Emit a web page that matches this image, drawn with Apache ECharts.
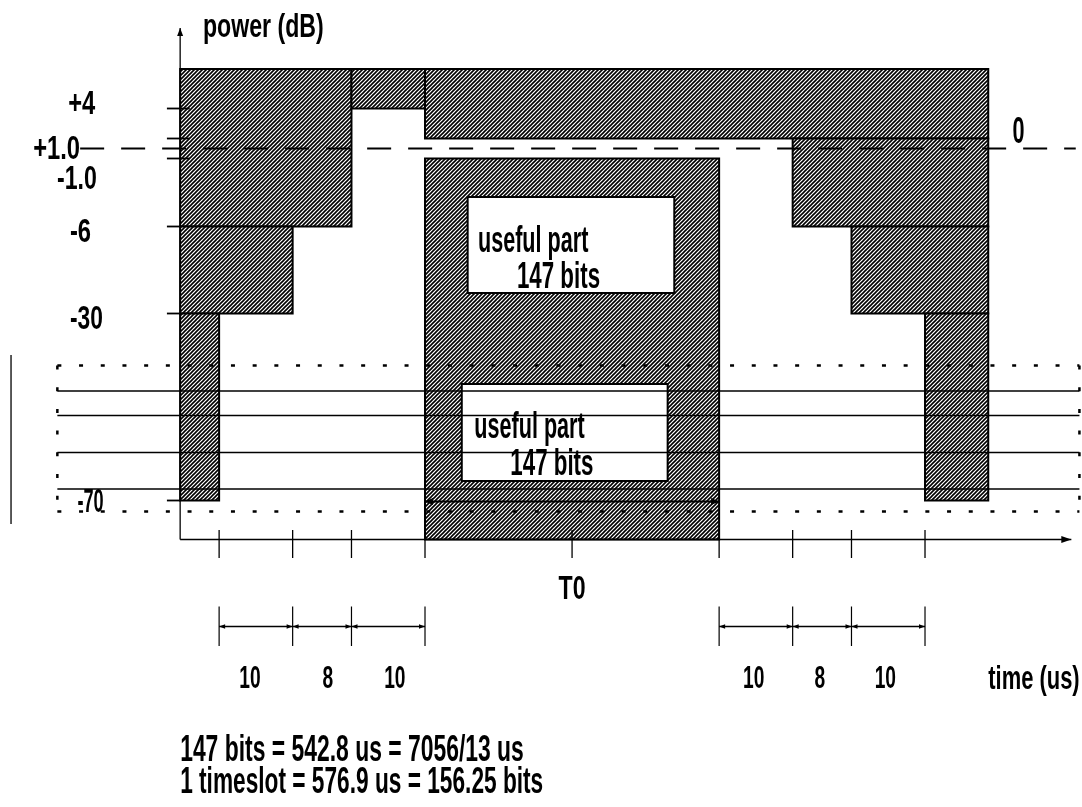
<!DOCTYPE html>
<html><head><meta charset="utf-8">
<script src="https://cdn.jsdelivr.net/npm/echarts@6/dist/echarts.min.js"></script>
<style>html,body{margin:0;padding:0;background:#fff}#c{width:1082px;height:807px}</style>
</head><body><div id="c"></div>
<script>
// ---------------- data ----------------
// vertical power levels (schematic positions on the dB axis)
const levelNames = ['top', '+4', '+1.0', '0', '-1.0', '-6', '-30', '-70', 'floor'];
const levelPos   = [7.95, 4, 1, 0, -1, -7.8, -16.5, -35.2, -39.1];
const longTicks  = ['+4', '+1.0', '-1.0'];
const shortTicks = ['-6', '-30', '-70'];
const tickLabels = ['+4', '+1.0', '-1.0', '-6', '-30', '-70'];
// schematic time axis (µs on the ramps, useful part compressed)
const timeTicks  = [-28, -18, -10, 0, 20, 40, 50, 58, 68];
const rampUp     = [-28, -18, -10, 0];
const rampDown   = [40, 50, 58, 68];
const rampLabels = ['10', '8', '10'];
const tAxis = -33.3, tMaskEnd = 76.6, tArrow = 87.9;
// mask blocks: [t start, t end, upper level, lower level]
const maskBlocks = [
  [tAxis, -10, 'top', '-6'],
  [tAxis, -18, '-6', '-30'],
  [tAxis, -28, '-30', '-70'],
  [-10, 0, 'top', '+4'],
  [0, tMaskEnd, 'top', '+1.0'],
  [0, 40, '-1.0', 'floor'],
  [50, tMaskEnd, '+1.0', '-6'],
  [58, tMaskEnd, '-6', '-30'],
  [68, tMaskEnd, '-30', '-70']
];
const usefulText = ['useful part', '147 bits'];
const usefulBoxes = [[5.8, 33.9, -4.85, -14.45], [5.0, 33.0, -23.55, -33.25]];
const overlayLevels = [-24.25, -26.7, -30.4, -34.05];
const overlayBox = [-50, 89.0, -21.7, -36.3];
const notes = ['147 bits = 542.8 us = 7056/13 us', '1 timeslot = 576.9 us = 156.25 bits'];

// ---------------- helpers ----------------
const FONT = '"Liberation Sans", Arial, sans-serif';
const L = n => levelPos[levelNames.indexOf(n)];
function makeHatch() {
  const c = document.createElement('canvas');
  c.width = 4; c.height = 4;
  const g = c.getContext('2d');
  g.fillStyle = '#fff'; g.fillRect(0, 0, 4, 4);
  g.strokeStyle = '#000'; g.lineWidth = 1.6;
  g.beginPath();
  g.moveTo(-1, 5); g.lineTo(5, -1);
  g.moveTo(-1, 1); g.lineTo(1, -1);
  g.moveTo(3, 5); g.lineTo(5, 3);
  g.stroke();
  return c;
}
const hatchFill = { image: makeHatch(), repeat: 'repeat' };
function seg(api, t1, v1, t2, v2, style) {
  const a = api.coord([t1, v1]), b = api.coord([t2, v2]);
  return { type: 'line', shape: { x1: a[0], y1: a[1], x2: b[0], y2: b[1] },
           style: Object.assign({ stroke: '#000', lineWidth: 1.3 }, style || {}) };
}
function head(api, t, v, dx, dy, len, half) {
  const p = api.coord([t, v]);
  const bx = p[0] - dx * len, by = p[1] - dy * len;
  return { type: 'polygon', shape: { points: [[p[0], p[1]], [bx - dy * half, by + dx * half], [bx + dy * half, by - dx * half]] },
           style: { fill: '#000' } };
}
function txt(api, t, v, s, fs, sx, align) {
  const p = api.coord([t, v]);
  return { type: 'text', x: p[0], y: p[1], scaleX: sx,
           style: { text: s, fontSize: fs, fontFamily: FONT, fontWeight: 'bold', fill: '#000', align: align || 'center', verticalAlign: 'middle' } };
}

const chart = echarts.init(document.getElementById('c'));
chart.setOption({
  animation: false,
  backgroundColor: '#fff',
  grid: { left: 0, right: 0, top: 0, bottom: 0 },
  xAxis: { type: 'value', min: -57.8, max: 89.35, show: false },
  yAxis: { type: 'value', min: -65.85, max: 14.85, show: false },
  series: [
    { // hatched power/time mask
      type: 'custom', silent: true,
      data: maskBlocks.map(b => [b[0], b[1], L(b[2]), L(b[3])]),
      renderItem(params, api) {
        const a = api.coord([api.value(0), api.value(2)]), b = api.coord([api.value(1), api.value(3)]);
        return { type: 'rect', shape: { x: a[0], y: a[1], width: b[0] - a[0], height: b[1] - a[1] },
                 style: { fill: hatchFill, stroke: '#000', lineWidth: 2 } };
      }
    },
    { // useful part boxes
      type: 'custom', silent: true,
      data: usefulBoxes,
      renderItem(params, api) {
        const t1 = api.value(0), t2 = api.value(1), v1 = api.value(2), v2 = api.value(3);
        const a = api.coord([t1, v1]), b = api.coord([t2, v2]);
        const first = params.dataIndex === 0;
        return { type: 'group', children: [
          { type: 'rect', shape: { x: a[0], y: a[1], width: b[0] - a[0], height: b[1] - a[1] },
            style: { fill: '#fff', stroke: '#000', lineWidth: 2 } },
          txt(api, first ? 7.2 : 6.7, first ? -9.35 : -27.95, usefulText[0], 36, 0.60, 'left'),
          txt(api, first ? 12.5 : 11.6, first ? -12.95 : -31.65, usefulText[1], 36, 0.62, 'left')
        ] };
      }
    },
    { // reference lines, overlay, axes
      type: 'custom', silent: true,
      data: [[0, 0]],
      renderItem(params, api) {
        const ch = [];
        // 0 dB dashed reference
        ch.push(seg(api, -46.9, L('0'), 88.5, L('0'), { lineWidth: 2, lineDash: [24, 17] }));
        // overlay dotted box
        const [b1, b2, bt, bb] = overlayBox;
        const dot = { lineWidth: 2.5, lineDash: [4, 17.7] };
        ch.push(seg(api, b1, bt, b2, bt, dot));
        ch.push(seg(api, b1, bb, b2, bb, dot));
        ch.push(seg(api, b1, bt, b1, bb, dot));
        ch.push(seg(api, b2, bt, b2, bb, dot));
        overlayLevels.forEach(v => ch.push(seg(api, b1, v, b2, v, { lineWidth: 1.5 })));
        ch.push(seg(api, -56.3, -20.65, -56.3, -37.55, { lineWidth: 1.3 }));
        // T0 double arrow
        const vT = -35.3;
        ch.push(seg(api, 0, vT, 40, vT, { lineWidth: 2 }));
        ch.push(head(api, 0, vT, -1, 0, 8, 3.5));
        ch.push(head(api, 40, vT, 1, 0, 8, 3.5));
        // axes
        ch.push(seg(api, tAxis, L('floor'), tAxis, 12.05, { lineWidth: 1.3 }));
        ch.push(head(api, tAxis, 12.05, 0, -1, 8, 3));
        ch.push(seg(api, tAxis, L('floor'), tArrow, L('floor'), { lineWidth: 1.6 }));
        ch.push(head(api, tArrow, L('floor'), 1, 0, 10, 3.5));
        longTicks.forEach(n => ch.push(seg(api, -35.1, L(n), -32.0, L(n), { lineWidth: 1.8 })));
        shortTicks.forEach(n => ch.push(seg(api, -35.1, L(n), tAxis, L(n), { lineWidth: 1.8 })));
        timeTicks.forEach(t => ch.push(seg(api, t, -38.15, t, -40.95, { lineWidth: 1.3 })));
        // ramp duration markers
        [rampUp, rampDown].forEach(r => {
          r.forEach(t => ch.push(seg(api, t, -45.8, t, -49.75, { lineWidth: 1.2 })));
          for (let i = 0; i < r.length - 1; i++) {
            ch.push(seg(api, r[i], -47.8, r[i + 1], -47.8, { lineWidth: 1.4 }));
            ch.push(head(api, r[i], -47.8, -1, 0, 6, 2.3));
            ch.push(head(api, r[i + 1], -47.8, 1, 0, 6, 2.3));
          }
        });
        return { type: 'group', children: ch };
      }
    },
    { // texts
      type: 'custom', silent: true,
      data: [[0, 0]],
      renderItem(params, api) {
        const ch = [];
        ch.push(txt(api, -30.2, 12.05, 'power (dB)', 34, 0.68, 'left'));
        const lt = [-46.69, -50.1, -47.33, -46.85, -46.04, -45.49];
        const lv = [4.35, -0.15, -3.15, -8.45, -17.15, -35.45];
        const ls = [0.72, 0.72, 0.70, 0.72, 0.69, 0.55];
        tickLabels.forEach((s, i) => ch.push(txt(api, lt[i], lv[i], s, 33, ls[i])));
        ch.push(txt(api, 80.7, 1.55, '0', 36, 0.6));
        ch.push(txt(api, 20, -44.15, 'T0', 34, 0.68));
        const rt = [-23.8, -13.2, -4.1, 44.7, 53.7, 62.6];
        rampLabels.concat(rampLabels).forEach((s, i) => ch.push(txt(api, rt[i], -53.1, s, 32, 0.6)));
        ch.push(txt(api, 76.6, -53.15, 'time (us)', 34, 0.645, 'left'));
        ch.push(txt(api, tAxis, -60.25, notes[0], 36, 0.636, 'left'));
        ch.push(txt(api, tAxis, -63.45, notes[1], 36, 0.63, 'left'));
        return { type: 'group', children: ch };
      }
    }
  ]
});
</script></body></html>
